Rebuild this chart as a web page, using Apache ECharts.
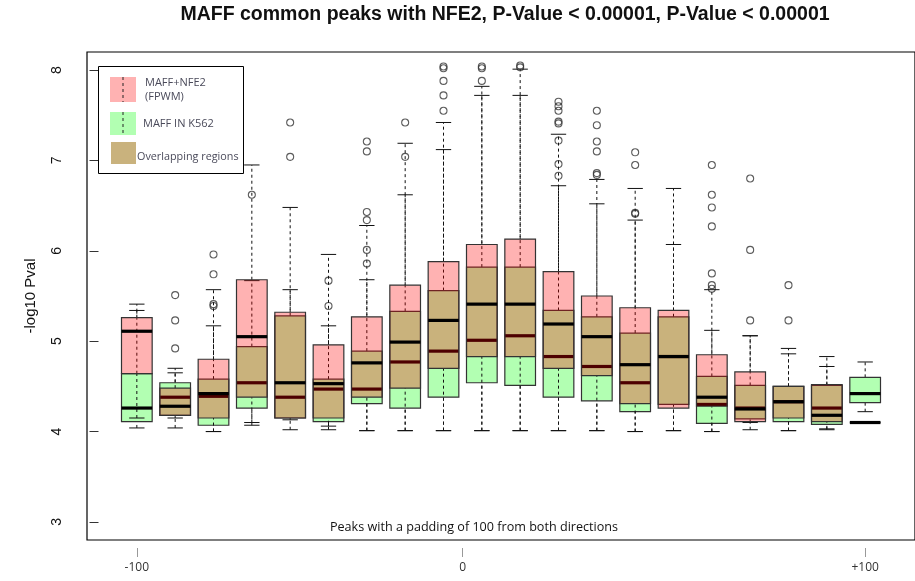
<!DOCTYPE html>
<html><head><meta charset="utf-8">
<script src="https://cdn.jsdelivr.net/npm/echarts@6/dist/echarts.min.js"></script>
<style>html,body{margin:0;padding:0;background:#fff}#c{width:915px;height:581px}</style>
</head><body><div id="c"></div>
<script>
// ---- data ----
const positions = [1,2,3,4,5,6,7,8,9,10,11,12,13,14,15,16,17,18,19,20];
const xTickPositions = [1, 9.5, 20];
const xTickLabels = ['-100', '0', '+100'];
const yTicks = [3,4,5,6,7,8];

// MAFF+NFE2 (FPWM)
const redLow  = [4.15,4.04,4.00,4.10,4.02,4.02,4.01,4.01,4.01,4.01,4.01,4.01,4.01,4.00,4.01,4.00,4.02,4.01,4.03,4.10];
const redQ1   = [4.64,4.18,4.15,4.38,4.15,4.15,4.38,4.48,4.70,4.83,4.83,4.70,4.62,4.31,4.26,4.28,4.11,4.15,4.11,4.10];
const redMed  = [5.11,4.28,4.42,5.05,4.54,4.53,4.76,4.99,5.23,5.41,5.41,5.19,5.05,4.74,4.83,4.38,4.25,4.33,4.18,4.10];
const redQ3   = [5.26,4.48,4.80,5.68,5.32,4.96,5.27,5.62,5.88,6.07,6.13,5.77,5.50,5.37,5.34,4.85,4.66,4.50,4.52,4.10];
const redHigh = [5.41,4.70,5.57,6.95,6.48,5.96,6.28,7.19,7.42,7.82,8.01,7.29,6.79,6.69,6.69,5.57,5.06,4.92,4.83,4.10];
const redOutliers = [
  [2,5.51],[2,5.23],[2,4.92],[3,5.96],[3,5.74],[5,7.42],[5,7.04],
  [7,7.21],[7,7.10],[7,6.43],[7,6.34],[8,7.42],
  [9,8.04],[9,8.02],[9,7.88],[9,7.72],[9,7.55],[10,8.04],[10,7.88],[11,8.05],
  [12,7.65],[12,7.60],[12,7.55],[12,7.43],[12,7.41],
  [13,7.55],[13,7.39],[13,7.21],[13,7.10],[14,7.09],[14,6.95],
  [16,6.95],[16,6.62],[16,6.48],[16,6.27],[16,5.75],[16,5.62],
  [17,6.80],[17,6.01],[17,5.23],[18,5.62],[18,5.23]
];

// MAFF IN K562
const greenLow  = [4.04,4.15,4.00,4.07,4.13,4.06,4.01,4.01,4.01,4.01,4.01,4.01,4.01,4.00,4.01,4.00,4.10,4.01,4.02,4.22];
const greenQ1   = [4.11,4.18,4.07,4.26,4.15,4.11,4.31,4.26,4.38,4.54,4.51,4.38,4.34,4.22,4.30,4.09,4.14,4.11,4.08,4.32];
const greenMed  = [4.26,4.38,4.39,4.54,4.38,4.47,4.47,4.77,4.89,5.01,5.06,4.83,4.72,4.54,4.83,4.30,4.26,4.33,4.26,4.42];
const greenQ3   = [4.64,4.54,4.58,4.94,5.28,4.58,4.89,5.33,5.56,5.82,5.82,5.34,5.27,5.09,5.27,4.61,4.51,4.50,4.51,4.60];
const greenHigh = [5.34,4.65,5.17,5.67,5.57,5.17,5.68,6.62,7.12,7.72,7.72,6.72,6.52,6.34,6.07,5.12,5.06,4.86,4.72,4.77];
const greenOutliers = [
  [3,5.41],[3,5.39],[4,6.62],[6,5.67],[6,5.39],[7,6.01],[7,5.86],[8,7.04],
  [10,8.02],[11,8.03],[12,7.22],[12,6.96],[12,6.83],[13,6.86],[13,6.84],
  [14,6.42],[14,6.41],[16,5.58]
];

// ---- chart ----
const RED = 'rgba(255,0,0,0.3)';
const GREEN = 'rgba(0,255,0,0.3)';

function boxData(lo, q1, md, q3, hi) {
  return positions.map((p, i) => [p, lo[i], q1[i], md[i], q3[i], hi[i]]);
}

function makeRender(fill) {
  return function (params, api) {
    const x = api.value(0);
    const pLow = api.coord([x, api.value(1)]);
    const pQ1 = api.coord([x, api.value(2)]);
    const pMed = api.coord([x, api.value(3)]);
    const pQ3 = api.coord([x, api.value(4)]);
    const pHigh = api.coord([x, api.value(5)]);
    const w = api.size([0.8, 0])[0];
    const sw = api.size([0.4, 0])[0];
    const cx = pLow[0];
    const dash = { stroke: '#111', lineWidth: 1, lineDash: [3, 3] };
    const solid = { stroke: '#111', lineWidth: 1 };
    return {
      type: 'group',
      children: [
        { type: 'line', shape: { x1: cx, y1: pLow[1], x2: cx, y2: pQ1[1] }, style: dash },
        { type: 'line', shape: { x1: cx, y1: pQ3[1], x2: cx, y2: pHigh[1] }, style: dash },
        { type: 'line', shape: { x1: cx - sw / 2, y1: pLow[1], x2: cx + sw / 2, y2: pLow[1] }, style: solid },
        { type: 'line', shape: { x1: cx - sw / 2, y1: pHigh[1], x2: cx + sw / 2, y2: pHigh[1] }, style: solid },
        { type: 'rect', shape: { x: cx - w / 2, y: pQ3[1], width: w, height: pQ1[1] - pQ3[1] },
          style: { fill: fill, stroke: '#333', lineWidth: 1.2 } },
        { type: 'line', shape: { x1: cx - w / 2, y1: pMed[1], x2: cx + w / 2, y2: pMed[1] },
          style: { stroke: '#000', lineWidth: 3.2 } }
      ]
    };
  };
}

const outlierStyle = { color: 'rgba(0,0,0,0)', borderColor: '#333', borderWidth: 1.1 };

const chart = echarts.init(document.getElementById('c'), null, { renderer: 'canvas' });
const sans = 'Liberation Sans, Arial, sans-serif';
const ui = '"Open Sans", "Noto Sans", sans-serif';

chart.setOption({
  animation: false,
  backgroundColor: '#fff',
  grid: { left: 87, top: 52, width: 836, height: 488, show: true, borderColor: '#000', borderWidth: 1.2, backgroundColor: 'transparent' },
  xAxis: [
    { type: 'value', min: -0.3, max: 21.3, axisLine: { show: false }, axisTick: { show: false },
      axisLabel: { show: false }, splitLine: { show: false } },
    { type: 'value', min: -0.3, max: 21.3, position: 'bottom', offset: 8, gridIndex: 0,
      axisLine: { show: false },
      axisTick: { show: true, customValues: xTickPositions, length: 9, lineStyle: { color: '#999', width: 1 } },
      axisLabel: { customValues: xTickPositions, margin: 14, fontSize: 12, fontFamily: ui, color: '#333',
        formatter: v => xTickLabels[xTickPositions.indexOf(v)] },
      splitLine: { show: false } }
  ],
  yAxis: {
    type: 'value', min: 2.8, max: 8.2,
    axisLine: { show: false },
    axisTick: { show: true, customValues: yTicks, length: 9, lineStyle: { color: '#333' } },
    axisLabel: { customValues: yTicks, rotate: 90, margin: 23, fontSize: 14, fontFamily: sans, color: '#111' },
    splitLine: { show: false },
    name: '-log10 Pval', nameLocation: 'middle', nameRotate: 90, nameGap: 49,
    nameTextStyle: { fontSize: 15, fontFamily: sans, color: '#111' }
  },
  series: [
    { type: 'custom', name: 'MAFF IN K562', xAxisIndex: 0, renderItem: makeRender(GREEN),
      data: boxData(greenLow, greenQ1, greenMed, greenQ3, greenHigh), encode: { x: 0, y: [1, 2, 3, 4, 5] }, z: 2 },
    { type: 'scatter', xAxisIndex: 0, symbol: 'circle', symbolSize: 7, itemStyle: outlierStyle, data: greenOutliers, z: 3 },
    { type: 'custom', name: 'MAFF+NFE2 (FPWM)', xAxisIndex: 0, renderItem: makeRender(RED),
      data: boxData(redLow, redQ1, redMed, redQ3, redHigh), encode: { x: 0, y: [1, 2, 3, 4, 5] }, z: 4 },
    { type: 'scatter', xAxisIndex: 0, symbol: 'circle', symbolSize: 7, itemStyle: outlierStyle, data: redOutliers, z: 5 }
  ],
  graphic: [
    { type: 'text', x: 505, y: 15, style: { text: 'MAFF common peaks with NFE2, P-Value < 0.00001, P-Value < 0.00001',
      font: 'bold 19.5px ' + sans, fill: '#111', textAlign: 'center', textVerticalAlign: 'middle' } },
    { type: 'text', x: 474, y: 527, style: { text: 'Peaks with a padding of 100 from both directions',
      font: '12.6px ' + ui, fill: '#111', textAlign: 'center', textVerticalAlign: 'middle' } },
    // legend
    { type: 'rect', shape: { x: 98.5, y: 66.5, width: 145, height: 107 }, style: { fill: '#fff', stroke: '#000', lineWidth: 1 }, z: 10 },
    { type: 'rect', shape: { x: 110, y: 77, width: 26, height: 25 }, style: { fill: 'rgb(255,178,178)' }, z: 11 },
    { type: 'line', shape: { x1: 123, y1: 77, x2: 123, y2: 102 }, style: { stroke: '#222', lineWidth: 1, lineDash: [3, 3] }, z: 12 },
    { type: 'rect', shape: { x: 110, y: 112, width: 26, height: 23 }, style: { fill: 'rgb(178,255,178)' }, z: 11 },
    { type: 'line', shape: { x1: 123, y1: 112, x2: 123, y2: 135 }, style: { stroke: '#222', lineWidth: 1, lineDash: [3, 3] }, z: 12 },
    { type: 'rect', shape: { x: 111, y: 142, width: 25, height: 22 }, style: { fill: 'rgb(201,178,125)' }, z: 11 },
    { type: 'text', x: 145, y: 83, style: { text: 'MAFF+NFE2', font: '11px ' + ui, fill: '#4a4a5a', textVerticalAlign: 'middle' }, z: 12 },
    { type: 'text', x: 145, y: 97, style: { text: '(FPWM)', font: '11px ' + ui, fill: '#4a4a5a', textVerticalAlign: 'middle' }, z: 12 },
    { type: 'text', x: 143, y: 124, style: { text: 'MAFF IN K562', font: '11px ' + ui, fill: '#4a4a5a', textVerticalAlign: 'middle' }, z: 12 },
    { type: 'text', x: 137, y: 157, style: { text: 'Overlapping regions', font: '10.8px ' + ui, fill: '#4a4a5a', textVerticalAlign: 'middle' }, z: 12 }
  ]
});
</script></body></html>
